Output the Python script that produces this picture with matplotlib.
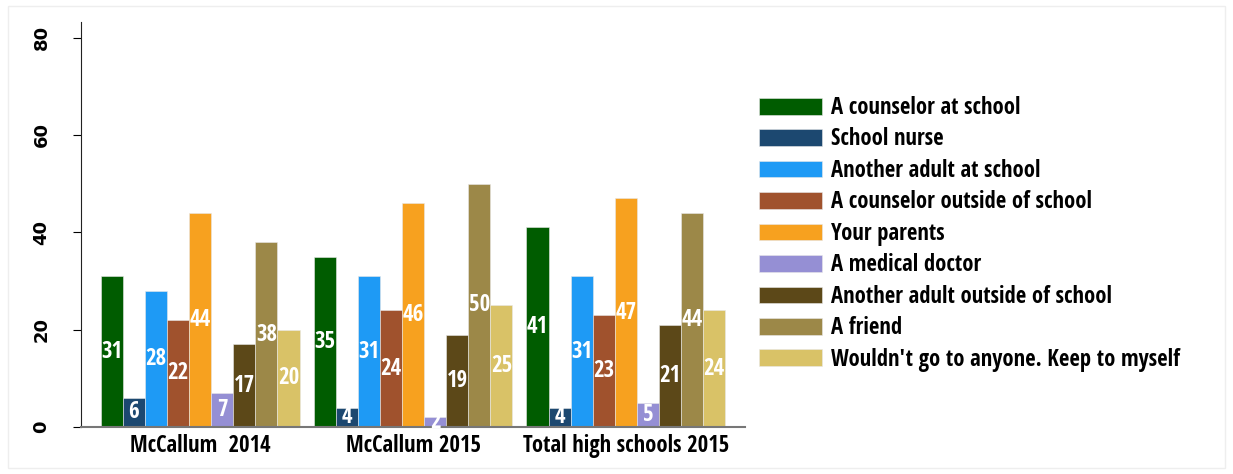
import numpy as np
import matplotlib.pyplot as plt
from matplotlib.patches import Rectangle, Patch

groups = ["McCallum  2014", "McCallum 2015", "Total high schools 2015"]
answers = [
    "A counselor at school",
    "School nurse",
    "Another adult at school",
    "A counselor outside of school",
    "Your parents",
    "A medical doctor",
    "Another adult outside of school",
    "A friend",
    "Wouldn't go to anyone. Keep to myself",
]
colors = ["#005c00", "#1c4870", "#1e9af5", "#a0522d", "#f7a11f",
          "#958fd4", "#5c4818", "#9c8848", "#d9c267"]

# percent per answer, one value per group
pct = [
    [31, 35, 41],
    [6, 4, 4],
    [28, 31, 31],
    [22, 24, 23],
    [44, 46, 47],
    [7, 2, 5],
    [17, 19, 21],
    [38, 50, 44],
    [20, 25, 24],
]
yticks = [0, 20, 40, 60, 80]

FONT = ["Open Sans Condensed", "DejaVu Sans"]
YFONT = ["DejaVu Sans"]

fig = plt.figure(figsize=(12.33, 4.74), dpi=100)
ax = fig.add_axes([81 / 1233, 1 - 427 / 474, (745 - 81) / 1233, (427 - 22) / 474])

x = np.arange(len(groups))
w = 0.1038
n = len(answers)
for i, (name, vals, c) in enumerate(zip(answers, pct, colors)):
    pos = x + (i - (n - 1) / 2) * w
    bars = ax.bar(pos, vals, width=w, color=c, edgecolor="#e8e8e8", linewidth=0.4, label=name)
    for b, v in zip(bars, vals):
        ax.text(b.get_x() + b.get_width() / 2, v / 2, f"{v:.0f}", ha="center", va="center",
                color="white", fontsize=16.5, fontweight="bold", family=FONT)

ax.set_xlim(-0.559, 2.559)
ax.set_ylim(0, 83.2)
ax.set_xticks(x)
ax.set_xticklabels(groups, fontsize=16.3, fontweight="bold", family=FONT)
ax.tick_params(axis="x", length=0, pad=5)
ax.set_yticks(yticks)
ax.set_yticklabels([str(t) for t in yticks], rotation=90, va="center",
                   fontsize=13, fontweight="bold", family=YFONT)
ax.tick_params(axis="y", length=6, width=0.8, pad=16)

for s in ["top", "right"]:
    ax.spines[s].set_visible(False)
ax.spines["left"].set_color("#222222")
ax.spines["bottom"].set_color("#777777")
ax.spines["bottom"].set_linewidth(1.5)

handles = [Patch(facecolor=c, edgecolor="#e8e8e8", linewidth=0.4) for c in colors]
leg = fig.legend(handles, answers, loc="upper left", bbox_to_anchor=(759 / 1233, 1 - 96 / 474),
                 frameon=False, handlelength=2.8, handleheight=0.77, handletextpad=0.4,
                 labelspacing=0.33, borderpad=0, borderaxespad=0,
                 prop={"family": FONT, "size": 16.3, "weight": "bold"})

# thin frame around the whole figure
fig.patches.append(Rectangle((8 / 1233, 6 / 474), 1 - 16 / 1233, 1 - 12 / 474,
                             transform=fig.transFigure, fill=False, edgecolor="#eeeeee", linewidth=1))

fig.savefig("out.png", dpi=100)
